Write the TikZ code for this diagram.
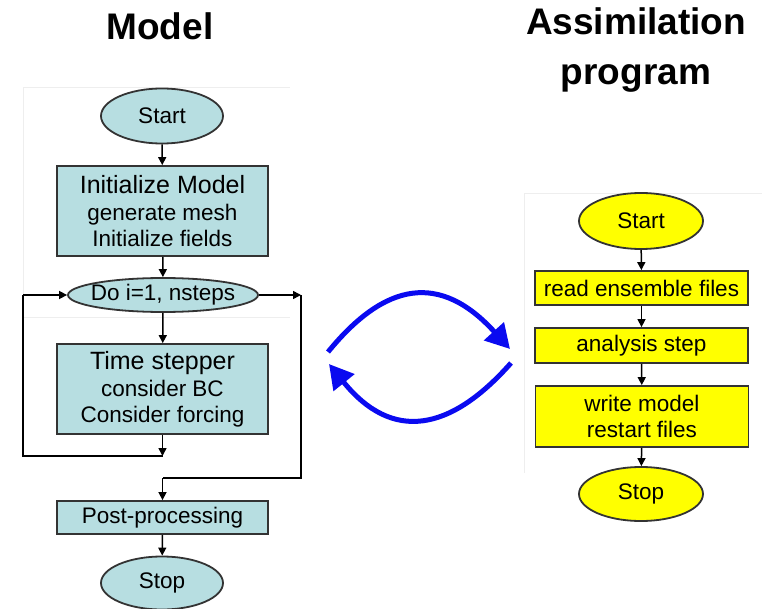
\documentclass[tikz,border=0pt]{standalone}
\usepackage{fontspec}
\setmainfont{Liberation Sans}
\usetikzlibrary{arrows.meta,shapes.geometric}
\definecolor{teal1}{HTML}{B7DEE1}
\definecolor{yel}{HTML}{FFFF00}
\definecolor{bord}{HTML}{333333}
\definecolor{arrblue}{HTML}{0A0AF0}
\definecolor{faint}{HTML}{EEEEEE}
\tikzset{
  txt/.style={font=\fontsize{22.5}{26}\selectfont, align=center, inner sep=0pt},
  tealbox/.style={txt, draw=bord, line width=1.8pt, fill=teal1, rectangle},
  tealell/.style={txt, draw=bord, line width=1.8pt, fill=teal1, ellipse},
  yelbox/.style={txt, draw=bord, line width=1.8pt, fill=yel, rectangle},
  yelell/.style={txt, draw=bord, line width=1.8pt, fill=yel, ellipse},
  conn/.style={line width=1.5pt, -{Triangle[length=8pt,width=8pt]}},
  plainln/.style={line width=1.5pt},
  bigarr/.style={draw=arrblue, line width=5pt, -{Triangle[length=24pt,width=26pt]}},
  title/.style={font=\fontsize{37}{50}\selectfont\bfseries, align=center, inner sep=0pt},
  faintln/.style={draw=faint, line width=0.8pt}
}
\begin{document}
\begin{tikzpicture}[x=1pt,y=-1pt]
\useasboundingbox (0,0) rectangle (762,609);
% faint panel edges
\draw[faintln] (290,87) -- (23,87) -- (23,317) -- (290,317);
\draw[faintln] (762,193) -- (524,193) -- (524,473);
% titles
\node[title] (tmodel) at (160,26) {Model};
\node[title] (tassim) at (636,50) {Assimilation\\program};
% left chart
\node[tealell, minimum width=122pt, minimum height=55pt] (lstart) at (162,116) {\makebox[0pt]{Start}};
\node[tealbox, minimum width=211pt, minimum height=90pt] (init) at (162.5,211)
  {{\fontsize{25}{27}\selectfont Initialize Model}\\[1pt]generate mesh\\Initialize fields};
\node[tealell, minimum width=190pt, minimum height=34pt] (doloop) at (163,295) {\makebox[0pt]{Do i=1, nsteps}};
\node[tealbox, minimum width=211pt, minimum height=90pt] (tstep) at (162.5,389)
  {{\fontsize{25}{27}\selectfont Time stepper}\\[1pt]consider BC\\Consider forcing};
\node[tealbox, minimum width=211pt, minimum height=33pt] (post) at (162.5,517.5) {Post-processing};
\node[tealell, minimum width=122pt, minimum height=53pt] (lstop) at (162,583) {\makebox[0pt]{Stop}};
\coordinate (lb) at (162.5,456);
\coordinate (rb) at (162.5,478);
\draw[conn] (lstart) -- (init);
\draw[conn] (init) -- (doloop);
\draw[conn] (doloop) -- (tstep);
\draw[conn] (tstep) -- (lb);
\draw[plainln] (lb) -- (23,456) -- (23,295);
\draw[conn] (23,295) -- (doloop.west);
\draw[conn] (doloop.east) -- (301,295);
\draw[plainln] (301,295) -- (301,478) -- (rb);
\draw[conn] (rb) -- (post);
\draw[conn] (post) -- (lstop);
% right chart
\node[yelell, minimum width=124pt, minimum height=56pt] (rstart) at (641,221) {\makebox[0pt]{Start}};
\node[yelbox, minimum width=213pt, minimum height=34pt] (read) at (641.5,288) {read ensemble files};
\node[yelbox, minimum width=213pt, minimum height=35pt] (anal) at (641.5,345.5) {analysis step};
\node[yelbox, minimum width=213pt, minimum height=61pt] (write) at (642,416.5) {write model\\restart files};
\node[yelell, minimum width=124pt, minimum height=54pt] (rstop) at (641,494) {\makebox[0pt]{Stop}};
\draw[conn] (rstart) -- (read);
\draw[conn] (read) -- (anal);
\draw[conn] (anal) -- (write);
\draw[conn] (write) -- (rstop);
% blue exchange arrows
\coordinate (u1) at (328,352);
\coordinate (u2) at (510,349);
\coordinate (d1) at (511,363);
\coordinate (d2) at (329,364);
\draw[bigarr] (u1) .. controls (385,282) and (440,272) .. (u2);
\draw[bigarr] (d1) .. controls (450,432) and (392,442) .. (d2);
\end{tikzpicture}
\end{document}
